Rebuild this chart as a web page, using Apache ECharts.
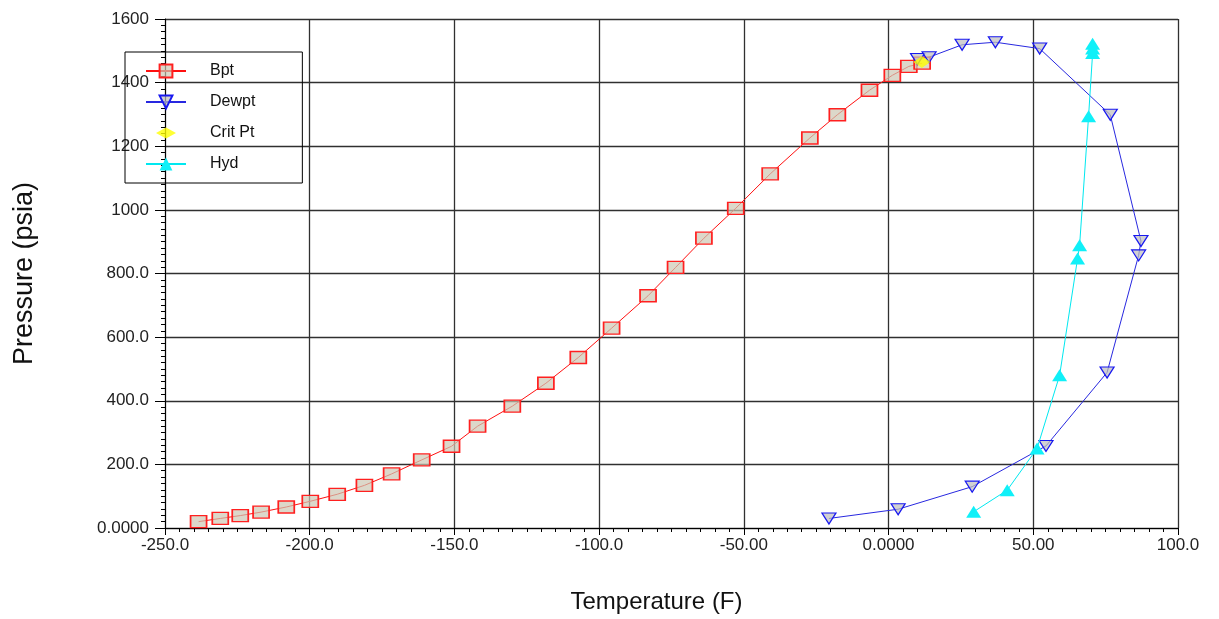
<!DOCTYPE html>
<html>
<head>
<meta charset="utf-8">
<script src="https://cdn.jsdelivr.net/npm/echarts@6/dist/echarts.min.js"></script>
<style>
html,body{margin:0;padding:0;background:#fff;}
#chart{width:1219px;height:619px;}
</style>
</head>
<body>
<div id="chart"></div>
<script>
// ---- data (Temperature F, Pressure psia) ----
const bptT = [-238.4,-230.9,-224.0,-216.8,-208.1,-199.8,-190.5,-181.1,-171.7,-161.3,-151.0,-142.0,-130.0,-118.4,-107.2,-95.7,-83.1,-73.6,-63.8,-52.8,-40.9,-27.2,-17.7,-6.6,1.3,7.0,11.6];
const bptP = [20,30,39,50,66,84,106,134,170,214,257,320,383,455,536,628,730,819,911,1005,1113,1226,1299,1376,1423,1451,1461];

const dewT = [10.0,14.0,25.4,36.9,52.2,76.6,87.2,86.4,75.5,54.4,28.9,3.3,-20.6];
const dewP = [1474,1480,1519,1527,1507,1299,902,857,489,258,130,59,30];

const critT = [11.5];
const critP = [1465];

const hydT = [29.4,41.0,51.3,59.1,65.3,66.0,69.1,70.5,70.5,70.5];
const hydP = [51,119,250,480,847,889,1294,1493,1507,1522];

const seriesNames = ['Bpt','Dewpt','Crit Pt','Hyd'];

const xTickValues = [-250,-200,-150,-100,-50,0,50,100];
const xTickLabels = ['-250.0','-200.0','-150.0','-100.0','-50.00','0.0000','50.00','100.0'];
const yTickValues = [0,200,400,600,800,1000,1200,1400,1600];
const yTickLabels = ['0.0000','200.0','400.0','600.0','800.0','1000','1200','1400','1600'];

const xName = 'Temperature (F)';
const yName = 'Pressure (psia)';

function zip(a,b){ return a.map((v,i)=>[v,b[i]]); }
function lab(values, labels){ return v => { const i = values.findIndex(t => Math.abs(t - v) < 1e-6); return i >= 0 ? labels[i] : ''; }; }

const FONT = '"Liberation Sans", Arial, sans-serif';
const chart = echarts.init(document.getElementById('chart'), null, {renderer:'canvas'});

chart.setOption({
  animation:false,
  backgroundColor:'#ffffff',
  grid:{left:165, right:41, top:19, bottom:91, containLabel:false},
  legend:{
    data:[
      {name:seriesNames[0]},
      {name:seriesNames[1]},
      {name:seriesNames[2], icon:'path://M0,0 M40,16 M10,8 L20,2.5 L30,8 L20,13.5 Z'},
      {name:seriesNames[3]}
    ],
    orient:'vertical',
    left:125, top:52,
    padding:[11,47,11,20],
    itemWidth:40, itemHeight:16, itemGap:15,
    borderColor:'#000', borderWidth:1,
    backgroundColor:'transparent',
    textStyle:{fontFamily:FONT, fontSize:16, lineHeight:16, color:'#111', padding:[0,0,0,19]}
  },
  xAxis:{
    type:'value', min:-250, max:100, interval:50,
    name:xName, nameLocation:'middle', nameGap:62,
    nameTextStyle:{fontFamily:FONT, fontSize:24, color:'#111', padding:[0,30,0,0]},
    axisLine:{show:true, onZero:false, lineStyle:{color:'#000', width:1}},
    axisTick:{show:true, length:7, lineStyle:{color:'#000'}},
    minorTick:{show:true, splitNumber:10, length:4, lineStyle:{color:'#000'}},
    axisLabel:{fontFamily:FONT, fontSize:17, color:'#222', margin:9, showMinLabel:true, showMaxLabel:true, formatter:lab(xTickValues, xTickLabels)},
    splitLine:{show:true, lineStyle:{color:'#303030', width:1.3}}
  },
  yAxis:{
    type:'value', min:0, max:1600, interval:200,
    name:yName, nameLocation:'middle', nameGap:127,
    nameTextStyle:{fontFamily:FONT, fontSize:27, color:'#111'},
    axisLine:{show:true, onZero:false, lineStyle:{color:'#000', width:1}},
    axisTick:{show:true, length:10, lineStyle:{color:'#000'}},
    minorTick:{show:true, splitNumber:10, length:4, lineStyle:{color:'#000'}},
    axisLabel:{fontFamily:FONT, fontSize:17, color:'#222', margin:16, showMinLabel:true, showMaxLabel:true, formatter:lab(yTickValues, yTickLabels)},
    splitLine:{show:true, lineStyle:{color:'#303030', width:1.3}}
  },
  series:[
    {
      name:seriesNames[0], type:'line', data:zip(bptT,bptP),
      symbol:'rect', symbolSize:[16,12],
      lineStyle:{color:'#ff1010', width:1},
      itemStyle:{color:'rgba(205,200,180,0.7)', borderColor:'#ff2020', borderWidth:1.5},
      z:3
    },
    {
      name:seriesNames[1], type:'line', data:zip(dewT,dewP),
      symbol:'triangle', symbolRotate:180, symbolSize:[14,11],
      lineStyle:{color:'#2828e0', width:1},
      itemStyle:{color:'rgba(190,190,190,0.7)', borderColor:'#1818f0', borderWidth:1.2},
      z:3
    },
    {
      name:seriesNames[2], type:'scatter', data:zip(critT,critP),
      symbol:'diamond', symbolSize:[17,12],
      itemStyle:{color:'#ffff00', borderWidth:0},
      z:5
    },
    {
      name:seriesNames[3], type:'line', data:zip(hydT,hydP),
      symbol:'triangle', symbolSize:[15,12],
      lineStyle:{color:'#00e8f0', width:1},
      itemStyle:{color:'#10f0f8', borderWidth:0},
      z:4
    }
  ]
});
</script>
</body>
</html>
